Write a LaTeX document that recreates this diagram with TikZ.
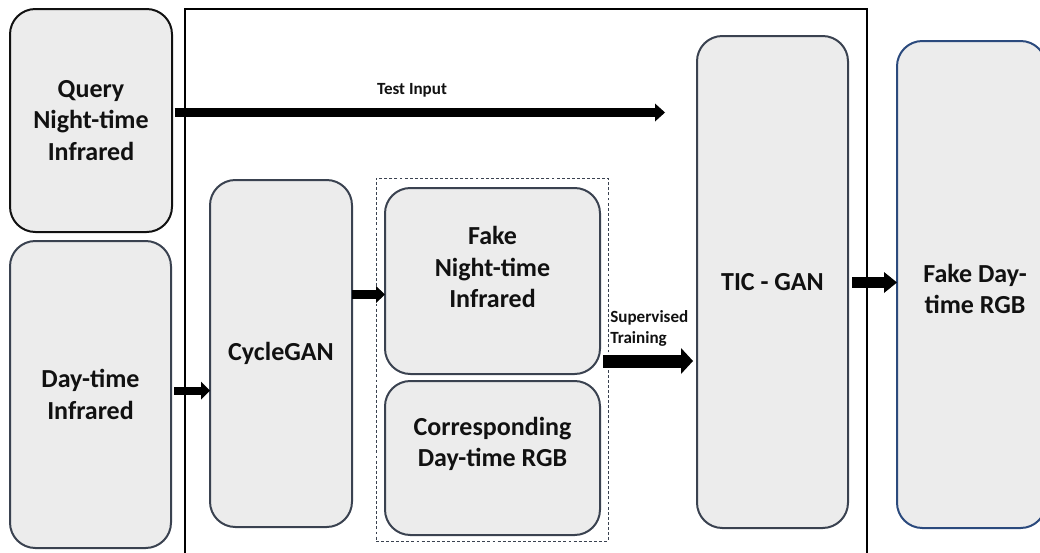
\documentclass[tikz,border=0pt]{standalone}
\usepackage{fontspec}
\setmainfont{Carlito}
\usetikzlibrary{arrows.meta}
\definecolor{boxfill}{HTML}{ECECEC}
\definecolor{slate}{HTML}{3A4250}
\definecolor{navy}{HTML}{2B4A7D}
\definecolor{ink}{HTML}{111111}
\tikzset{
  box/.style={draw=slate, fill=boxfill, line width=1.5pt, rounded corners=19pt,
    inner sep=0pt, outer sep=0pt, align=center, text=ink,
    font=\fontsize{19.5pt}{23.6pt}\selectfont\bfseries},
  bigtext/.style={align=center, text=ink, inner sep=0pt,
    font=\fontsize{19.5pt}{23.6pt}\selectfont\bfseries},
  smalltext/.style={text=ink, inner sep=0pt,
    font=\fontsize{12.8pt}{15.8pt}\selectfont\bfseries},
  fatarrow/.style n args={3}{draw=black, line width=#1,
    -{Triangle[length=#3, width=#2, line width=0pt]}},
}
\begin{document}
\begin{tikzpicture}[x=0.75pt, y=-0.75pt]
\useasboundingbox (0,0) rectangle (1040,553);
\clip (0,0) rectangle (1040,553);
% outer frame
\draw[line width=1.5pt, draw=black] (185,9) -- (867,9) -- (867,600) -- (185,600) -- cycle;
% boxes
\node[box, draw=ink, minimum width=121.5pt, minimum height=167.25pt] (query) at (91,120.5) {Query\\Night-time\\Infrared};
\node[box, minimum width=120.75pt, minimum height=230.25pt] (dayir) at (90.5,394.5) {Day-time\\Infrared};
\node[box, minimum width=106.5pt, minimum height=260.25pt] (cycle) at (281,353.5) {CycleGAN};
\node[draw=slate, dashed, dash pattern=on 2.2pt off 1.6pt, line width=0.75pt, inner sep=0pt, outer sep=0pt,
  minimum width=174pt, minimum height=272.25pt] (group) at (492,359.5) {};
\node[box, minimum width=161.25pt, minimum height=139.5pt] (fakenir) at (492.5,281) {};
\node[bigtext] (fakenirtxt) at (492.5,267) {Fake\\Night-time\\Infrared};
\node[box, minimum width=161.25pt, minimum height=115.5pt] (corr) at (492.5,458) {};
\node[bigtext] (corrtxt) at (492.5,444) {Corresponding\\Day-time RGB};
\node[box, minimum width=113.25pt, minimum height=369pt] (tic) at (772.5,282) {TIC - GAN};
\node[box, draw=navy, minimum width=111.75pt, minimum height=365.25pt] (fakeday) at (971.5,284.5) {};
\node[bigtext] (fakedaytxt) at (975,289) {Fake Day-\\time RGB};
% arrow rows
\coordinate (testtip) at (665,112.5);
\coordinate (y1) at (0,390.5);
\coordinate (y2) at (0,294.5);
\coordinate (y3) at (0,361);
\coordinate (y4) at (0,282.5);
\draw[fatarrow={6.75pt}{13.5pt}{7.5pt}] ([xshift=2pt]query.east |- testtip) -- (testtip);
\draw[fatarrow={6pt}{13.5pt}{6.75pt}] ([xshift=2.5pt]dayir.east |- y1) -- (cycle.west |- y1);
\draw[fatarrow={6.75pt}{12.75pt}{6.75pt}] (cycle.east |- y2) -- (fakenir.west |- y2);
\draw[fatarrow={9.75pt}{19.5pt}{9pt}] ([xshift=2.25pt]fakenir.east |- y3) -- ([xshift=-3pt]tic.west |- y3);
\draw[fatarrow={8.25pt}{15.75pt}{9.75pt}] ([xshift=3pt]tic.east |- y4) -- (fakeday.west |- y4);
% labels
\node[smalltext] (testlbl) at (412,90) {Test Input};
\node[smalltext, anchor=west, align=left] (suplbl) at (610,328.5) {Supervised\\Training};
\end{tikzpicture}
\end{document}
